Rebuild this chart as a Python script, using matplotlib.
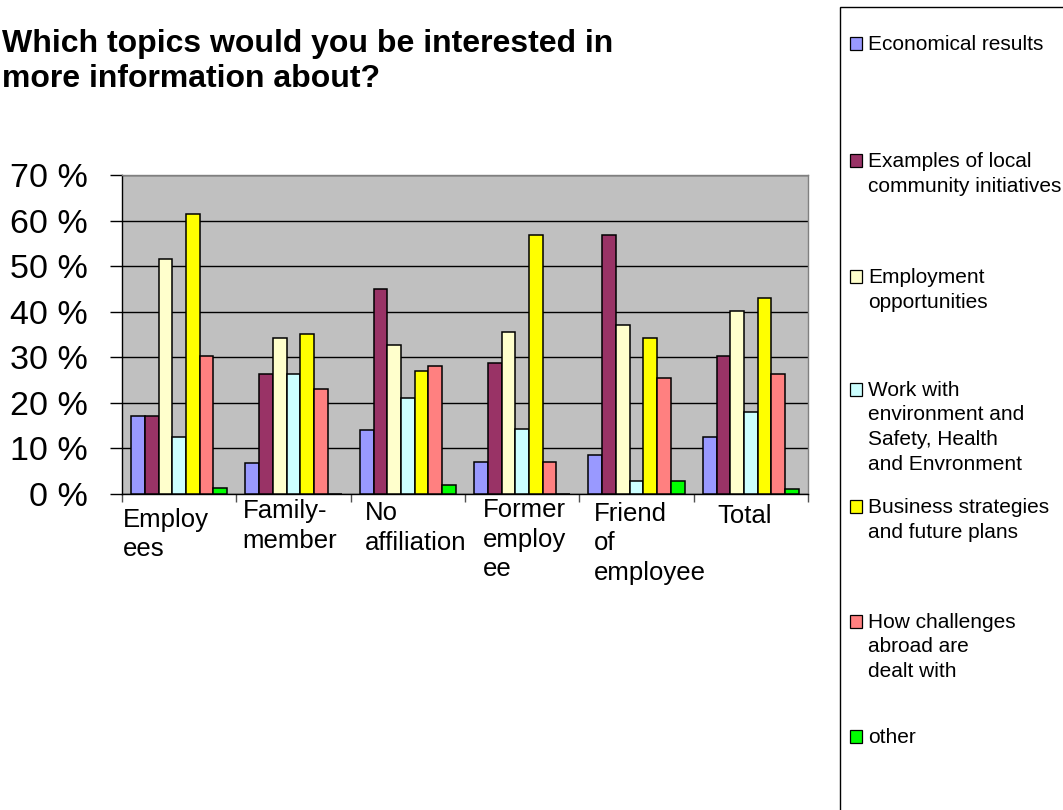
import matplotlib
matplotlib.use("Agg")
import matplotlib.pyplot as plt
import matplotlib.patches as mpatches
from matplotlib.transforms import blended_transform_factory
import numpy as np

plt.rcParams['font.family'] = ['Liberation Sans', 'DejaVu Sans']

# ---------------- data ----------------
categories = ["Employees", "Family-member", "No affiliation", "Former employee",
              "Friend of employee", "Total"]
category_labels = ["Employ\nees", "Family-\nmember", "No\naffiliation",
                   "Former\nemploy\nee", "Friend\nof\nemployee", "Total"]
series_names = ["Economical results",
                "Examples of local community initiatives",
                "Employment opportunities",
                "Work with environment and Safety, Health and Envronment",
                "Business strategies and future plans",
                "How challenges abroad are dealt with",
                "other"]
legend_labels = ["Economical results",
                 "Examples of local\ncommunity initiatives",
                 "Employment\nopportunities",
                 "Work with\nenvironment and\nSafety, Health\nand Envronment",
                 "Business strategies\nand future plans",
                 "How challenges\nabroad are\ndealt with",
                 "other"]
economical = [17.2, 6.8, 14.0, 7.0, 8.5, 12.4]
examples_local = [17.2, 26.4, 44.9, 28.7, 56.9, 30.3]
employment = [51.6, 34.2, 32.8, 35.6, 37.1, 40.1]
work_environment = [12.6, 26.4, 21.1, 14.3, 2.8, 18.0]
business = [61.5, 35.1, 27.0, 56.9, 34.2, 42.9]
challenges = [30.3, 23.1, 28.0, 7.0, 25.5, 26.4]
other = [1.4, 0.0, 2.0, 0.0, 2.8, 1.1]
yticks = [0, 10, 20, 30, 40, 50, 60, 70]
ytick_labels = ["0 %", "10 %", "20 %", "30 %", "40 %", "50 %", "60 %", "70 %"]
title = "Which topics would you be interested in\nmore information about?"

series = [economical, examples_local, employment, work_environment,
          business, challenges, other]
colors = ["#9999FF", "#993366", "#FFFFCC", "#CCFFFF", "#FFFF00", "#FF8080", "#00FF00"]

# ---------------- layout ----------------
W, H = 1063, 810
fig = plt.figure(figsize=(W / 100, H / 100), dpi=100)
left, right, top, bottom = 122, 808, 175, 494
ax = fig.add_axes([left / W, 1 - bottom / H, (right - left) / W, (bottom - top) / H])
ax.set_facecolor("#C0C0C0")

n = len(categories)
x = np.arange(n)
bw = 0.12
for j, (vals, col) in enumerate(zip(series, colors)):
    ax.bar(x + (j - 3) * bw, vals, width=bw, color=col, edgecolor="black",
           linewidth=1.1, zorder=3, label=series_names[j])

ax.set_xlim(-0.5, n - 0.5)
ax.set_ylim(0, 70)
ax.set_yticks(yticks)
ax.set_yticklabels(ytick_labels, fontsize=24.5)
ax.yaxis.grid(True, color="black", linewidth=1.0, zorder=1)
ax.set_axisbelow(True)
ax.tick_params(axis="y", direction="out", length=8.5, width=1.0, pad=16, colors="black")

ax.set_xticks(x)
ax.set_xticklabels([""] * n)
ax.tick_params(axis="x", which="major", length=0)
ax.set_xticks(np.arange(-0.5, n, 1.0), minor=True)
ax.tick_params(axis="x", which="minor", direction="out", length=6, width=1.0,
               color="#505050")

for s in ["top", "right"]:
    ax.spines[s].set_color("#808080")
    ax.spines[s].set_linewidth(1.0)
for s in ["left", "bottom"]:
    ax.spines[s].set_color("black")
    ax.spines[s].set_linewidth(1.0)


def put_lines(target, xpos, first_base_px, text, step_px, transform, **kw):
    """Draw a wrapped label one line at a time at exact baselines."""
    for k, line in enumerate(text.split("\n")):
        yb = 1 - (first_base_px + k * step_px) / H
        target.text(xpos, yb, line, transform=transform, ha="left",
                    va="baseline", **kw)


# category labels
px_per_unit = (right - left) / n
label_dx_px = [0.7, 6.3, 14.0, 18.0, 15.0, 23.5]
label_base_px = [527, 518, 520, 517, 521, 523]
trans = blended_transform_factory(ax.transData, fig.transFigure)
for i, lab in enumerate(category_labels):
    put_lines(ax, i - 0.5 + label_dx_px[i] / px_per_unit, label_base_px[i], lab, 29.5,
              trans, fontsize=18.5, clip_on=False)

# title
put_lines(fig, 2 / W, 52, title, 35, fig.transFigure, fontsize=23, fontweight="bold")

# legend box
box = mpatches.Rectangle((840 / W, 1 - 815 / H), 240 / W, (815 - 7) / H,
                         transform=fig.transFigure, facecolor="white",
                         edgecolor="black", linewidth=1.0, zorder=0)
fig.patches.append(box)
leg_base_px = [50, 167, 283, 396, 513, 628, 743]
for lab, col, b in zip(legend_labels, colors, leg_base_px):
    sq = mpatches.Rectangle((849.5 / W, 1 - (b - 0.5) / H), 12.5 / W, 12.5 / H,
                            transform=fig.transFigure, facecolor=col,
                            edgecolor="black", linewidth=0.9, zorder=2)
    fig.patches.append(sq)
    put_lines(fig, 868 / W, b, lab, 24.5, fig.transFigure, fontsize=15)

fig.savefig("out.png", dpi=100, facecolor="white")
